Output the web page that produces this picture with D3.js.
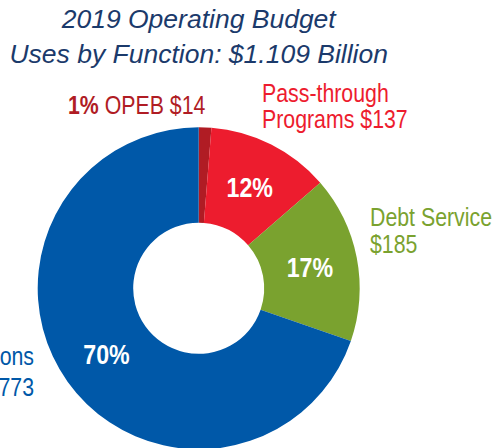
<!DOCTYPE html>
<html>
<head>
<meta charset="utf-8">
<script src="https://cdn.jsdelivr.net/npm/d3@7"></script>
<style>
  body { margin: 0; background: #fff; }
  svg { display: block; }
</style>
</head>
<body>
<script>
// slices, clockwise from 12 o'clock
const categories = ["OPEB", "Pass-through Programs", "Debt Service", "Operations"];
const amounts = [14, 137, 185, 773];            // $ millions
const percents = ["1%", "12%", "17%", "70%"];
const colors = ["#b01c24", "#ed1c2e", "#7aa22f", "#0058a8"];

const titleLines = ["2019 Operating Budget", "Uses by Function: $1.109 Billion"];

const width = 495, height = 448;
const cx = 198.7, cy = 288.3;
const outerR = 161, innerR = 65.5;
const font = "'Liberation Sans', Arial, Helvetica, sans-serif";
const narrow = 0.82;   // fake a condensed face by squeezing Liberation Sans

const svg = d3.select("body").append("svg")
  .attr("width", width)
  .attr("height", height);

// title
svg.append("g")
  .attr("font-family", font)
  .attr("font-style", "italic")
  .attr("font-size", 26.5)
  .attr("fill", "#1b3a6b")
  .attr("text-anchor", "middle")
  .selectAll("text")
  .data(titleLines)
  .join("text")
    .attr("x", cx)
    .attr("y", (d, i) => 27.5 + i * 35.5)
    .text(d => d);

const data = categories.map((c, i) => ({ name: c, value: amounts[i], pct: percents[i], color: colors[i] }));

const pie = d3.pie().value(d => d.value).sort(null);
const arc = d3.arc().innerRadius(innerR).outerRadius(outerR);
const arcs = pie(data);

const g = svg.append("g").attr("transform", `translate(${cx},${cy})`);

g.selectAll("path")
  .data(arcs)
  .join("path")
    .attr("d", arc)
    .attr("fill", d => d.data.color);

// percent labels inside the ring (skip the tiny OPEB slice)
g.selectAll("g.pct")
  .data(arcs.filter(d => d.data.value > 50))
  .join("g")
    .attr("class", "pct")
    .attr("transform", d => {
      const [x, y] = arc.centroid(d);
      return `translate(${x},${y}) scale(0.86,1)`;
    })
  .append("text")
    .attr("dy", "0.36em")
    .attr("text-anchor", "middle")
    .attr("font-family", font)
    .attr("font-weight", "bold")
    .attr("font-size", 27)
    .attr("fill", "#fff")
    .text(d => d.data.pct);

// outside labels
function label(x, y, color, lines, anchor = "start", lead = 27) {
  const t = svg.append("g")
    .attr("transform", `translate(${x},${y}) scale(${narrow},1)`)
    .append("text")
      .attr("font-family", font)
      .attr("font-size", 26)
      .attr("fill", color)
      .attr("text-anchor", anchor);
  t.selectAll("tspan")
    .data(lines)
    .join("tspan")
      .attr("x", 0)
      .attr("dy", (d, i) => i ? lead : 0)
      .text(d => d);
  return t;
}

// OPEB
const opeb = svg.append("g")
  .attr("transform", `translate(68,114) scale(${narrow},1)`)
  .append("text")
    .attr("font-family", font)
    .attr("font-size", 26)
    .attr("fill", colors[0]);
opeb.append("tspan").attr("font-weight", "bold").text(percents[0]);
opeb.append("tspan").text(` ${categories[0]} $${amounts[0]}`);

label(262, 101.5, colors[1], ["Pass-through", `Programs $${amounts[1]}`]);
label(370, 226, colors[2], ["Debt Service", `$${amounts[2]}`]);
label(34, 365, colors[3], ["Operations", `$${amounts[3]}`], "end", 31);
</script>
</body>
</html>
